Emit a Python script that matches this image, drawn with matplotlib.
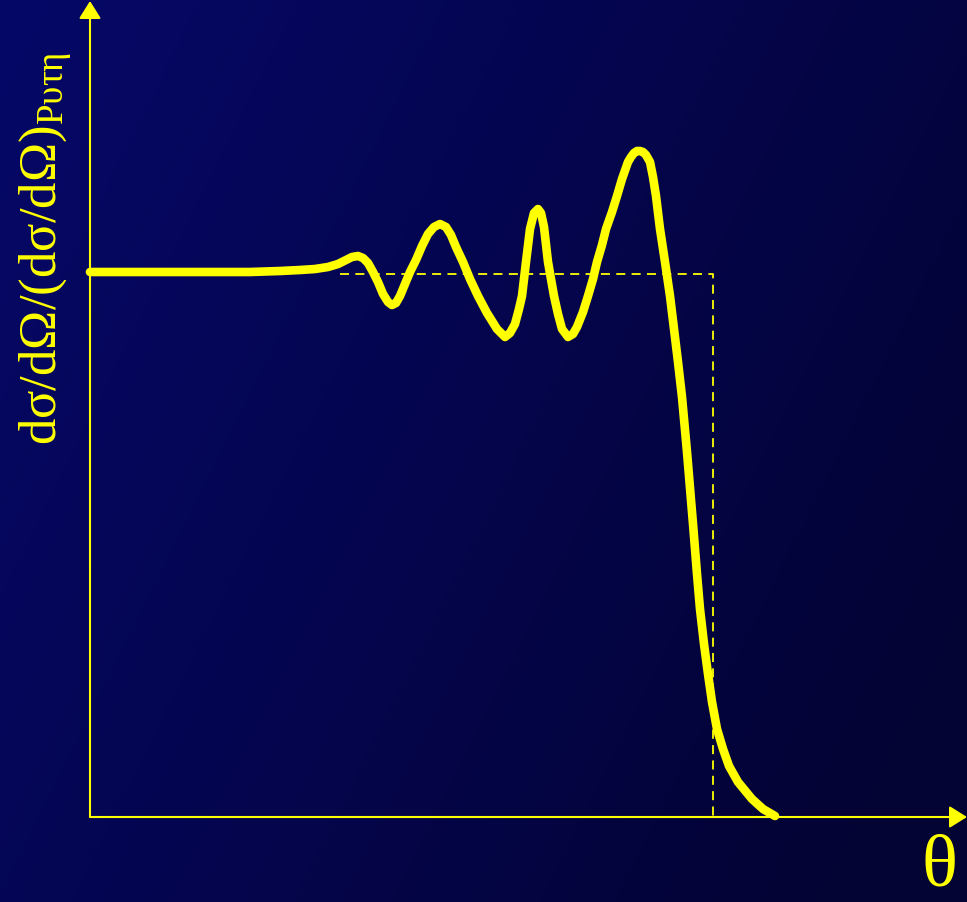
import numpy as np
import matplotlib
matplotlib.use("Agg")
from matplotlib import pyplot as plt

# curve (theta in arbitrary units, ratio with flat level ~545)
theta = [0, 60, 110, 160, 190, 210, 225, 238, 248, 256, 262, 268, 273, 278, 283,
         288, 293, 298, 302, 306, 310, 315, 320, 326, 332, 338, 344, 350, 356,
         361, 366, 373, 380, 388, 397, 407, 415, 420, 425, 429, 432, 436, 440,
         444, 448, 451, 454, 458, 461, 464, 468, 472, 478, 483, 487, 493, 498,
         503, 507, 512, 516, 522, 527, 532, 538, 541, 544, 547, 550, 553, 556,
         560, 563, 566, 570, 575, 580, 584, 588, 592, 597, 603, 607, 610, 614,
         618, 622, 627, 633, 639, 648, 662, 673, 685]
ratio = [545, 545, 545, 545, 546, 547, 548, 550, 553, 557, 560, 561, 559, 554, 545,
         535, 523, 515, 512, 514, 521, 533, 545, 557, 571, 583, 590, 593, 590,
         582, 570, 555, 538, 521, 504, 488, 480, 484, 493, 508, 521, 555, 588,
         604, 608, 604, 590, 555, 538, 521, 503, 488, 480, 483, 490, 505, 521,
         538, 555, 572, 588, 605, 621, 638, 655, 660, 664, 666, 666, 665, 662,
         655, 640, 621, 588, 555, 521, 488, 455, 420, 365, 293, 243, 208, 173,
         143, 115, 88, 68, 51, 35, 18, 8, 1]

# sharp cut-off (dashed step)
step_theta = [250, 623, 623]
step_ratio = [543, 543, 0]

yellow = "#ffff00"

fig = plt.figure(figsize=(9.67, 9.03), dpi=100)

# background gradient
bg = fig.add_axes([0, 0, 1, 1])
gx = np.linspace(0, 1, 256)
gy = np.linspace(0, 1, 256)
GX, GY = np.meshgrid(gx, gy)
left = np.array([6, 8, 104]) / 255
right = np.array([3, 3, 52]) / 255
t = np.clip(GX * 0.75 + GY * 0.35, 0, 1)[..., None]
img = left * (1 - t) + right * t
bg.imshow(img, aspect="auto", extent=[0, 1, 0, 1], origin="upper")
bg.axis("off")

ax = fig.add_axes([0, 0, 1, 1])
ax.patch.set_alpha(0)
ax.set_xlim(-90, 877)
ax.set_ylim(-85, 818)
ax.axis("off")

ax.plot(step_theta, step_ratio, color=yellow, lw=1.3, ls=(0, (5, 3.5)))
ax.plot(theta, ratio, color=yellow, lw=6.2, solid_capstyle="round",
        solid_joinstyle="round")

# axes with arrows
arrow = dict(arrowstyle="-|>,head_length=0.4,head_width=0.25", color=yellow,
             lw=1.5, mutation_scale=27, shrinkA=0, shrinkB=0)
ax.annotate("", xy=(0, 816), xytext=(0, 0), arrowprops=arrow)
ax.annotate("", xy=(877, 0), xytext=(0, 0), arrowprops=arrow)

plt.rcParams["mathtext.fontset"] = "custom"
plt.rcParams["mathtext.rm"] = "Liberation Serif"
plt.rcParams["mathtext.it"] = "Liberation Serif"

fig.text(0.047, 0.507, r"d$\mathrm{\sigma}$/d$\Omega$/(d$\mathrm{\sigma}$/d$\Omega$)$_{\mathrm{P\upsilon\tau\eta}}$",
         rotation=90, color=yellow, fontsize=38, family="Liberation Serif",
         ha="center", va="bottom")
fig.text(0.99, 0.002, "θ", color=yellow, fontsize=54, family="Liberation Serif",
         ha="right", va="bottom")

fig.savefig("out.png", dpi=100)
